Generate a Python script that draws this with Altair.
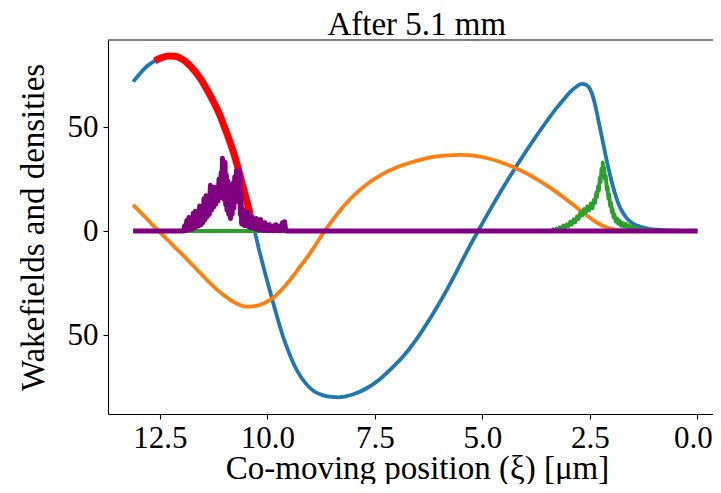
import altair as alt
import pandas as pd

# ---------------- data ----------------
blue_x = [13.12, 12.95, 12.8, 12.62, 12.45, 12.3, 12.15, 12.0, 11.85, 11.7, 11.55, 11.4,
          11.25, 11.1, 11.0, 10.9, 10.8, 10.7, 10.6, 10.5, 10.4, 10.3, 10.2, 10.05, 9.9,
          9.75, 9.6, 9.45, 9.3, 9.1, 8.9, 8.7, 8.5, 8.35, 8.2, 8.0, 7.69, 7.4, 7.15, 6.85,
          6.53, 6.2, 5.9, 5.6, 5.3, 5.1, 4.8, 4.5, 4.2, 3.9, 3.6, 3.3, 3.1, 2.95, 2.8,
          2.69, 2.58, 2.5, 2.42, 2.35, 2.28, 2.2, 2.11, 2.02, 1.93, 1.84, 1.74, 1.65,
          1.5, 1.34, 1.15, 0.95, 0.7, 0.4, 0.0]
blue_y = [71.8, 76.0, 79.2, 81.8, 83.4, 84.1, 84.0, 82.8, 80.5, 77.2, 73.0, 67.8,
          62.0, 55.5, 50.0, 44.5, 38.5, 31.5, 24.0, 16.0, 8.0, 0.3, -8.5, -20.5, -32.0,
          -43.0, -53.0, -61.0, -67.5, -73.5, -77.3, -79.0, -79.8, -80.0, -79.6, -78.5,
          -75.6, -71.5, -66.8, -60.5, -52.0, -41.5, -31.0, -19.5, -7.5, 0.0, 11.0, 21.5,
          31.5, 41.0, 50.0, 58.5, 63.5, 67.0, 69.6, 70.7, 70.2, 68.3, 64.0, 58.0, 51.0,
          43.0, 34.0, 26.0, 19.0, 13.3, 9.0, 6.3, 3.6, 2.2, 1.2, 0.6, 0.25, 0.05, 0.0]

orange_x = [13.12, 12.9, 12.7, 12.54, 12.3, 12.1, 11.965, 11.8, 11.6, 11.45, 11.34, 11.2,
            11.05, 10.94, 10.8, 10.65, 10.48, 10.3, 10.15, 10.01, 9.85, 9.7, 9.55, 9.4,
            9.25, 9.08, 8.9, 8.78, 8.66, 8.5, 8.3, 8.16, 7.9, 7.6, 7.3, 7.0, 6.7, 6.4, 6.1,
            5.8, 5.5, 5.2, 4.9, 4.6, 4.3, 4.0, 3.7, 3.4, 3.1, 2.85, 2.6, 2.4, 2.2, 2.0,
            1.8, 1.6, 1.4, 0.0]
orange_y = [12.5, 7.9, 3.6, 0.2, -4.7, -8.9, -11.6, -15.1, -19.4, -22.6, -24.9, -27.7,
            -30.3, -32.0, -34.0, -35.5, -36.4, -36.1, -35.3, -34.0, -31.8, -28.9, -25.5,
            -21.6, -17.4, -12.8, -7.3, -3.5, 0.3, 4.8, 10.1, 13.5, 18.8, 23.8, 27.6, 30.5,
            32.7, 34.4, 35.7, 36.4, 36.6, 36.2, 35.1, 33.3, 30.9, 28.0, 24.5, 20.5, 16.0,
            12.0, 7.9, 4.9, 2.5, 1.0, 0.3, 0.05, 0.0, 0.0]

# the red stretch lies on the blue curve
red_from, red_to = 12.62, 10.4

green_x = [13.12, 3.40, 3.36, 3.32, 3.28, 3.24, 3.20, 3.16, 3.12, 3.08, 3.04, 3.00, 2.96,
           2.92, 2.88, 2.84, 2.80, 2.76, 2.72, 2.68, 2.64, 2.60, 2.56, 2.52, 2.48, 2.44,
           2.41, 2.38, 2.35, 2.33, 2.31, 2.29, 2.27, 2.25, 2.23, 2.21, 2.20, 2.18, 2.17,
           2.15, 2.13, 2.11, 2.09, 2.07, 2.05, 2.03, 2.01, 1.99, 1.97, 1.95, 1.93, 1.90,
           1.87, 1.84, 1.81, 1.78, 1.75, 1.71, 1.67, 1.63, 1.59, 1.55, 1.51, 1.47, 1.43,
           1.38, 1.33, 1.28, 1.22, 1.16, 1.10, 1.04, 0.98, 0.92, 0.0]
green_y = [0, 0, 0.8, 0.2, 1.2, 0.5, 1.8, 1.0, 2.6, 1.5, 3.2, 2.2, 4.4,
           3.0, 5.6, 4.2, 7.0, 5.8, 9.0, 7.5, 10.5, 8.8, 11.8, 9.8, 13.2, 11.0,
           15.0, 13.5, 18.5, 16.5, 21.5, 19.5, 25.5, 23.5, 30.0, 27.5, 33.0, 28.0, 30.5,
           25.0, 26.5, 20.0, 21.5, 15.5, 17.5, 12.0, 13.5, 9.0, 10.5, 6.5, 8.0, 4.5,
           6.0, 3.5, 5.0, 2.5, 4.0, 2.0, 3.5, 1.2, 2.8, 0.8, 2.2, 0.5, 1.6,
           0.3, 1.2, 0.2, 0.9, 0.1, 0.6, 0.1, 0.4, 0.0, 0.0]

purple_x = [13.12, 11.950, 11.925, 11.900, 11.875, 11.850, 11.825, 11.800, 11.775, 11.750,
            11.725, 11.700, 11.675, 11.650, 11.625, 11.600, 11.575, 11.550, 11.525, 11.500,
            11.475, 11.450, 11.425, 11.400, 11.375, 11.350, 11.325, 11.300, 11.275, 11.250,
            11.225, 11.200, 11.175, 11.150, 11.125, 11.100, 11.075, 11.060, 11.045, 11.030,
            11.015, 11.000, 10.985, 10.970, 10.955, 10.940, 10.920, 10.900, 10.880, 10.860,
            10.840, 10.820, 10.800, 10.780, 10.760, 10.740, 10.720, 10.700, 10.680, 10.660,
            10.645, 10.630, 10.615, 10.600, 10.580, 10.560, 10.540, 10.520, 10.500, 10.480,
            10.455, 10.430, 10.405, 10.380, 10.355, 10.330, 10.305, 10.280, 10.255, 10.230,
            10.205, 10.180, 10.155, 10.130, 10.105, 10.080, 10.055, 10.030, 10.000, 9.975,
            9.950, 9.925, 9.900, 9.875, 9.850, 9.825, 9.800, 9.775, 9.750, 9.725, 9.700,
            9.675, 9.650, 9.625, 9.600, 9.575, 9.550, 0.0]
purple_y = [0, 0, 2.5, 0.2, 5, 0.5, 6.5, 1, 4, 0.8,
            8.5, 1.5, 9.5, 2, 7, 2.5, 12, 3, 11, 4,
            15.5, 5.5, 17, 7, 14, 8, 22, 10, 19, 11.5,
            21, 13, 20, 14.5, 25, 16, 28, 20, 35, 19,
            30, 15, 33, 12.5, 27, 10, 24, 8, 21, 6,
            15, 8, 23, 11, 26, 14, 29, 17, 25, 15,
            29, 8, 18, 3.5, 11, 3, 9.5, 2.5, 8, 3,
            9, 2, 6, 1.5, 7, 1.5, 5, 1, 6, 0.8,
            4.5, 0.5, 5.5, 0.5, 3, 0.3, 4, 0.3, 2.5, 0.2,
            3, 0.2, 1.5, 0.2, 2.5, 0.2, 3, 0.2, 1.5, 0.2, 2.5,
            0.2, 4, 0.5, 4.5, 0.2, 0, 0]

x_ticks = [12.5, 10.0, 7.5, 5.0, 2.5, 0.0]
y_ticks = [-50, 0, 50]
title_text = "After 5.1 mm"

# ---------------- table ----------------
rows = []
def add(name, xs, ys):
    for i, (a, b) in enumerate(zip(xs, ys)):
        rows.append({"s": name, "x": a, "y": b, "i": i})

add("blue", blue_x, blue_y)
add("orange", orange_x, orange_y)
add("red", [a for a in blue_x if red_to <= a <= red_from],
    [b for a, b in zip(blue_x, blue_y) if red_to <= a <= red_from])
add("green", green_x, green_y)
add("purple", purple_x, purple_y)
df = pd.DataFrame(rows)

W, H = 605, 374
FONT = "Liberation Serif"

x_enc = alt.X("x:Q",
              scale=alt.Scale(domain=[-0.3628, 13.707], reverse=True, nice=False, zero=False),
              axis=alt.Axis(values=x_ticks, format=".1f",
                            labelOffset=alt.condition("datum.value == 0", alt.value(-4.5), alt.value(0)),
                            title="Co-moving position (ξ) [μm]",
                            titleX=309, titleY=64, titleBaseline="alphabetic",
                            titleAlign="center"))
y_enc = alt.Y("y:Q",
              scale=alt.Scale(domain=[-87.98, 91.83], nice=False, zero=False),
              axis=alt.Axis(values=y_ticks, labelExpr="abs(datum.value)",
                            title="Wakefields and densities",
                            titleX=-64.7, titleY=H / 2, titleAngle=270,
                            titleBaseline="alphabetic", titleAlign="center"))

base = alt.Chart(df).encode(x=x_enc, y=y_enc, order="i:Q")

def layer(name, color, width, interp):
    return base.transform_filter(alt.datum.s == name).mark_line(
        color=color, strokeWidth=width, interpolate=interp,
        strokeJoin="round", strokeCap="butt")

one = pd.DataFrame({"t": [title_text]})
top_spine = alt.Chart(one).mark_rule(color="black", strokeWidth=1.1).encode(
    y=alt.value(0), x=alt.value(0), x2=alt.value(W))
title = alt.Chart(one).mark_text(
    font=FONT, fontSize=33, color="black", align="center", baseline="alphabetic").encode(
    text="t:N", x=alt.value(308.75), y=alt.value(-5))

chart = alt.layer(
    layer("blue", "#1f77b4", 3.8, "monotone"),
    layer("orange", "#ff7f0e", 3.8, "monotone"),
    layer("red", "#ff0000", 7, "monotone"),
    layer("green", "#2ca02c", 3.8, "linear"),
    layer("purple", "#800080", 5, "linear"),
    top_spine,
    title,
).properties(
    width=W, height=H,
    autosize=alt.AutoSizeParams(type="none"),
    padding={"left": 100, "top": 32, "right": 0, "bottom": 70},
).configure_view(stroke=None).configure_axis(
    grid=False, domainColor="black", domainWidth=1.1, tickColor="black",
    tickWidth=1.1, tickSize=5, labelFont=FONT, labelFontSize=31, labelColor="black",
    titleFont=FONT, titleFontSize=33, titleFontWeight="normal", titleColor="black",
    labelPadding=4,
).configure_axisY(labelPadding=5)

chart.save("out.html", embed_options={"renderer": "svg", "actions": False})
